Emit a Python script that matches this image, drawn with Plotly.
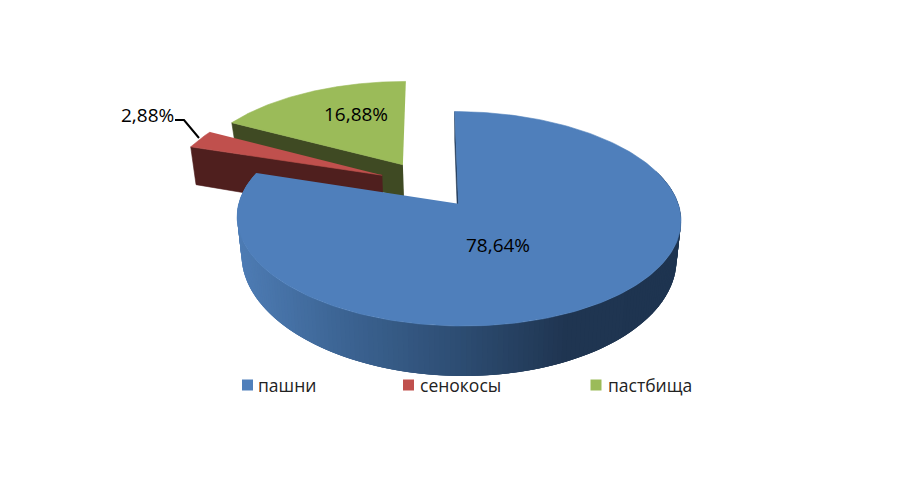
import numpy as np
import plotly.graph_objects as go

categories = ["пашни", "сенокосы", "пастбища"]
shares = [78.64, 2.88, 16.88]
share_labels = ["78,64%", "2,88%", "16,88%"]
top_colors = ["#4f7fbb", "#c0504d", "#9bbb59"]
wall_colors = ["#2f4f75", "#4f1f1e", "#3f4a23"]
wall_depth = [35, 42, 35]
legend_x = [247.5, 408.5, 596]
legend_y = [385, 385, 385]
legend_text_x = [258, 420, 608]
label_x = [498, 147, 355.5]
label_y = [245, 115, 114]
leader_x = [175, 184, 199]
leader_y = [120, 120, 138]
grad_x = [238, 340, 450, 560, 680]
grad_r = [78, 60, 46, 32, 30]
grad_g = [124, 100, 78, 54, 52]
grad_b = [180, 147, 116, 82, 80]

CX, CY, R, F, K, E, VX, CONV = 428, 184.3, 214, 99.7, 0.137, 0.235, 458, 0.02
FONT = "Open Sans"


def proj(X, Y):
    s = 1 / (1 - K * Y)
    return CX + R * X * s, CY + F * Y * s


def low(X, Y, d):
    s = 1 / (1 - K * Y)
    x, y = proj(X, Y)
    return VX + (x - VX) * (1 - CONV), y + d * s * s


def poly(xs, ys, color, w=0.6):
    return go.Scatter(x=list(xs), y=list(ys), mode="lines", fill="toself", fillcolor=color,
                      line=dict(color=color, width=w), hoverinfo="skip", showlegend=False)


def wedge(start, end, n=240):
    mid = np.radians((start + end) / 2)
    ox, oy = E * np.sin(mid), -E * np.cos(mid)
    t = np.radians(np.linspace(start, end, n))
    return t, ox + np.sin(t), oy - np.cos(t), ox, oy


fig = go.Figure()
edges = np.cumsum([0] + shares) / sum(shares) * 360
for i in [2, 1, 0]:
    a, b = edges[i], edges[i + 1]
    d = wall_depth[i]
    T, X, Y, ox, oy = wedge(a, b)
    x0, y0 = proj(ox, oy)
    x1, y1 = low(ox, oy, d)
    x2, y2 = proj(X[0], Y[0])
    x3, y3 = low(X[0], Y[0], d)
    fig.add_trace(poly([x0, x2, x3, x1], [y0, y2, y3, y1], "#1f3552" if i == 0 else wall_colors[i]))
    if i == 0:
        visible = np.where(np.degrees(T) > 70)[0]
        for j in visible[:-3]:
            xa, ya = proj(X[j:j + 4], Y[j:j + 4])
            xb, yb = low(X[j:j + 4], Y[j:j + 4], d)
            xm = float(np.mean(xa))
            col = "rgb(%d,%d,%d)" % (np.interp(xm, grad_x, grad_r),
                                     np.interp(xm, grad_x, grad_g),
                                     np.interp(xm, grad_x, grad_b))
            fig.add_trace(poly(np.r_[xa, xb[::-1]], np.r_[ya, yb[::-1]], col, 0))
    px, py = proj(np.r_[ox, X], np.r_[oy, Y])
    fig.add_trace(poly(px, py, top_colors[i]))

fig.add_trace(go.Scatter(x=leader_x, y=leader_y, mode="lines", line=dict(color="black", width=2),
                         hoverinfo="skip", showlegend=False))
fig.add_trace(go.Scatter(x=legend_x, y=legend_y, mode="markers",
                         marker=dict(symbol="square", size=11, color=top_colors),
                         text=categories, hoverinfo="text", showlegend=False))

for t, x, y in zip(share_labels, label_x, label_y):
    fig.add_annotation(x=x, y=y, text=t, showarrow=False, xanchor="center", yanchor="middle",
                       font=dict(family=FONT, size=19, color="black"))
for t, x, y in zip(categories, legend_text_x, legend_y):
    fig.add_annotation(x=x, y=y, text=t, showarrow=False, xanchor="left", yanchor="middle", xshift=-2,
                       font=dict(family=FONT, size=17.5, color="#222222"))

fig.update_layout(width=893, height=471, margin=dict(l=0, r=0, t=0, b=0),
                  paper_bgcolor="white", plot_bgcolor="white", showlegend=False,
                  xaxis=dict(range=[8, 901], visible=False, fixedrange=True),
                  yaxis=dict(range=[479, 8], visible=False, fixedrange=True))
fig.write_html("out.html", config={"displayModeBar": False})
